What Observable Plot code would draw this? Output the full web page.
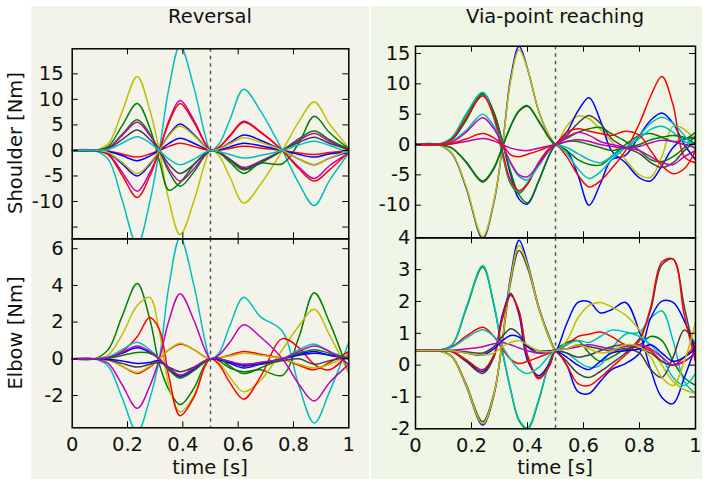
<!DOCTYPE html>
<html><head><meta charset="utf-8">
<script src="https://cdn.jsdelivr.net/npm/d3@7"></script>
<script src="https://cdn.jsdelivr.net/npm/@observablehq/plot@0.6"></script>
<style>
body{margin:0;background:#fff;}
#root{position:relative;width:708px;height:486px;overflow:hidden;font-family:"DejaVu Sans",sans-serif;}
.bg{position:absolute;}
.plot{position:absolute;}
.plot svg{overflow:visible;}
.txt{position:absolute;font-size:19.5px;color:#111;white-space:nowrap;transform:translate(-50%,-50%);line-height:1;}
.rot{transform:translate(-50%,-50%) rotate(-90deg);}
</style></head><body><div id="root"></div>
<script>
// ---- shared ----
const colorKeys = ["b","g","r","c","m","y","k"];
const colorHex = ["#0000ff","#008000","#ff0000","#00bfbf","#bf00bf","#bfbf00","#404040"];
const xTickValues = [0,0.2,0.4,0.6,0.8,1];
const xTickLabels = ["0","0.2","0.4","0.6","0.8","1"];
const xInnerTicks = [0.2,0.4,0.6,0.8];
const phaseBoundary = [0.5];
const panelTitles = ["Reversal","Via-point reaching"];
const rowLabels = ["Shoulder [Nm]","Elbow [Nm]"];
const xLabel = "time [s]";

// ---- Reversal ----
const timeRev = [0,0.08,0.13,0.18,0.235,0.28,0.315,0.35,0.39,0.44,0.48,0.5,0.53,0.57,0.62,0.68,0.76,0.82,0.875,0.93,1];
const revShoulderColors = ["y","c","g","g","m","m","r","r","b","b","k","y","c"];
const revShoulderValues = [
  [0,0,1.3,7.5,14.5,8,0,-9.9,-16.5,-9.9,-2.5,0,-1,-5.2,-10.3,-6.7,0,5.7,9.5,5.2,0.5],
  [0,0,-1.7,-9.6,-18.5,-10.2,0,12.3,20.5,12.3,3.1,0,1.2,6,12,7.8,0,-6.5,-10.8,-5.9,-0.5],
  [0,0,0.8,4.8,9.2,4.5,-2,-7.8,-6.3,-2.8,-0.6,0,-0.4,-2.3,-4.5,-2.5,-2.6,1.5,6.7,3.5,0.3],
  [0,0,0.5,3.1,6,3.3,0,-4.2,-7,-4.2,-1,0,-0.4,-1.9,-3.8,-2.5,0,2.3,3.8,2.1,0.2],
  [0,0,0.5,2.9,5.5,3,0,-3.6,-6,-3.6,-0.9,0,-0.3,-1.7,-3.3,-2.1,0,2,3.3,1.8,0],
  [0,0,-0.7,-4.2,-8,-4.4,0,5.9,9.8,5.9,1.5,0,0.6,2.9,5.7,3.7,0,-3.3,-5.5,-3,-0.5],
  [0,0,-0.8,-4.8,-9.2,-5.1,0,5.5,9.2,5.5,1.4,0,0.6,2.8,5.5,3.6,0,-3.6,-6,-3.8,-0.3],
  [0,0,-0.1,-0.7,-1.3,-0.7,0,0.8,1.4,0.8,0.2,0,0.1,0.4,0.8,0.5,0,-0.5,-0.8,-0.4,0],
  [0,0,-0.5,-2.6,-5,-2.8,0,3.1,5.2,3.1,0.8,0,0.3,1.5,3,2,0,-1.7,-2.8,-1.5,-0.3],
  [0,0,-0.2,-1,-2,-1.1,0,1.4,2.4,1.4,0.4,0,0.1,0.7,1.4,0.9,0,-0.8,-1.3,-0.7,-0.3],
  [0,0,0.4,2.1,4,2.2,0,-2.7,-4.5,-2.7,-0.7,0,-0.4,-1.8,-3.6,-2.3,0,1.6,2.6,1.4,0.2],
  [0,0,-0.4,-2.3,-4.5,-2.5,0,2.9,4.8,2.9,0.7,0,0.3,1.3,2.5,1.6,0,-1.7,-2.8,-1.5,0],
  [0,0,0.2,1.4,2.7,1.5,0,-1.7,-2.8,-1.7,-0.4,0,-0.2,-0.8,-1.5,-1,0,1.1,1.8,1,-0.5]
];
const revShoulderTickLabels = [-10,-5,0,5,10,15];
const revShoulderTickMarks = [-15,-10,-5,0,5,10,15];
const revShoulderDomain = [-17.3,19.9];

const revElbowColors = ["c","g","y","r","m","c","b","r","y","k","b","g","m"];
const revElbowValues = [
  [0,0,-0.4,-2.1,-4,-2.2,0,4,6.6,4,1,0,0.3,1.8,3.35,2.3,1.5,-1.5,-3.5,-1.8,0.9],
  [0,0,0.5,2.3,4.1,2.2,-0.3,-1.7,-2.5,-1.6,-0.3,0,-0.1,-0.5,-0.7,-0.6,-0.9,1.2,3.6,2,-0.8],
  [0,0,0.2,1.3,2.9,3.35,1.5,-1.5,-2.9,-2,-0.4,0,-0.2,-1,-1.8,-1.2,0.5,1.8,2.7,1.3,-0.8],
  [0,0,0.05,0.4,1.2,2.25,1.6,-1,-3.1,-2.1,-0.4,0,-0.3,-1.3,-2.2,-1,1.1,0.6,-0.3,-0.6,0.3],
  [0,0,-0.25,-1.4,-2.7,-1.5,0,2.1,3.55,2.1,0.5,0,0.2,0.9,1.85,1.2,0,-1.4,-2.3,-1.3,-0.3],
  [0,0,0.1,0.5,0.9,0.5,0,-0.6,-1,-0.6,-0.15,0,0,-0.15,-0.3,-0.2,0,0.5,0.8,0.4,0],
  [0,0,0.05,0.3,0.6,0.35,0,-0.6,-0.95,-0.6,-0.15,0,-0.05,-0.25,-0.5,-0.3,0,0.25,0.4,0.2,0.1],
  [0,0,-0.07,-0.4,-0.8,-0.45,0,0.5,0.8,0.5,0.1,0,0.05,0.2,0.4,0.25,0,-0.35,-0.6,-0.2,0.4],
  [0,0,-0.07,-0.4,-0.75,-0.4,0,0.5,0.85,0.5,0.1,0,0.05,0.15,0.3,0.2,0,-0.3,-0.5,-0.3,0.2],
  [0,0,-0.05,-0.25,-0.45,-0.3,-0.2,-0.45,-0.7,-0.45,-0.1,0,0,-0.2,-0.4,-0.3,-0.1,0,-0.3,-0.1,0.1],
  [0,0,-0.02,-0.12,-0.25,-0.2,-0.1,-0.5,-0.9,-0.55,-0.15,0,-0.05,-0.2,-0.35,-0.25,0,0.2,0.3,0.2,0],
  [0,0,0.03,0.18,0.35,0.3,0,-0.6,-1.05,-0.65,-0.15,0,0.05,-0.4,-0.8,-0.5,0,0.3,0.5,0.3,0],
  [0,0,0.06,0.35,0.7,0.4,0,-0.5,-0.9,-0.5,-0.1,0,0,-0.15,-0.3,-0.2,0,0.4,0.7,0.4,-0.3]
];
const revElbowTickLabels = [-2,0,2,4,6];
const revElbowDomain = [-3.76,6.54];

// ---- Via-point reaching ----
const timeVia = [0,0.08,0.13,0.18,0.24,0.28,0.31,0.34,0.37,0.4,0.44,0.48,0.5,0.54,0.58,0.62,0.66,0.7,0.75,0.8,0.84,0.88,0.92,0.96,1];
const viaShoulderColors = ["b","y","b","g","g","c","r","k","g","c","m","m","r"];
const viaShoulderValues = [
  [0,0,-1.5,-7,-15.5,-9.5,-0.5,11,16.2,12.5,5.5,1.2,0,-1,-5,-10,-6.5,-2.5,-1.8,1.5,4,5.2,3.5,0,-2.5],
  [0,0,-1.4,-6.8,-15.2,-9.3,-0.5,10.5,15.6,12.5,5.5,1.2,0,3,4.7,4.2,2.5,0.5,-2.5,-5,-5.4,-2,3,2.5,0.5],
  [0,0,0.8,4,8.5,5.2,0.5,-5,-9,-9.8,-6,-1.5,0,2,5.5,7.7,4,-1,-3,-5.5,-6,-3.5,-0.5,1,1],
  [0,0,0.8,4,8.3,5.3,0.5,-4.5,-8.3,-9.6,-6,-1.5,0,1,2,2.6,2.8,1.8,0.5,-1,-2.5,-2.8,-2,-0.5,1.5],
  [0,0,1.1,4.8,8.3,4.5,-1.5,-6.5,-8,-6.5,-3,-0.6,0,-1,-2.5,-3.3,-3.4,-2,0,1.5,1.8,1.2,0.5,0.8,2],
  [0,0,1.2,5,8.6,4.3,-1.5,-6.2,-7.8,-6.3,-3,-0.6,0,-0.5,-1.5,-2.5,-3,-2,-0.5,1,2.5,3,2,0.5,0],
  [0,0,0.9,4.3,8,4.6,-1,-6,-7.6,-6.5,-3,-0.6,0,-2,-5,-7,-6,-4,-1,3.5,8,11.2,6.5,-2,-3],
  [0,0,-0.6,-2.9,-6.2,-4,-0.5,3,5.5,6.3,3.8,0.9,0,1.5,3.5,4.8,3.5,1,-0.5,-1.5,-3,-3.8,-3,-1,0.5],
  [0,0,-0.6,-2.8,-6,-3.8,-0.4,3.1,5.6,6.4,3.9,0.9,0,0.5,0.5,0,-0.5,-1,-0.5,0,0.8,1.2,1.5,1.2,0],
  [0,0,0.5,2.3,5,3,0,-3.2,-5.3,-5.8,-3.5,-0.8,0,-1.5,-4,-5.6,-4.5,-2.5,-0.5,1.5,3.5,4.5,3.5,1.5,-1],
  [0,0,0.4,2,4.4,2.6,0,-3,-5,-5.3,-3.2,-0.8,0,1.2,2,1.5,0.5,0,-0.5,-1,-2,-3,-3.3,-2,-1],
  [0,0,0.1,0.5,1,0.6,0,-0.6,-0.9,-1,-0.6,-0.2,0,0.5,0.8,0.5,0,-0.3,-0.6,-0.3,0.3,0.7,0.5,0,-0.5],
  [0,0,0.2,0.9,1.8,1.1,0,-1.7,-2,-1.6,-1,-0.3,0,2,2.6,2.2,1.8,1.5,2.2,1.5,-1,-3.5,-4.8,-4,-1]
];
const viaShoulderTickLabels = [-10,-5,0,5,10,15];
const viaShoulderDomain = [-15.37,16.2];

const viaElbowColors = ["g","c","b","k","y","b","k","r","r","c","k","b","m","y"];
const viaElbowValues = [
  [0.46,0.46,0.62,1.74,3.08,1.88,0.46,-0.79,-1.75,-2,-1.12,0.15,0.46,0.71,0.77,0.38,0.12,0.25,0.51,0.64,0.9,0.77,0.12,-0.39,-0.64],
  [0.46,0.46,0.64,1.79,3.13,1.92,0.46,-0.77,-1.71,-1.97,-1.08,0.15,0.46,0.38,0.12,-0.07,0,0.51,0.97,1.04,1.48,1.7,0.77,-0.51,-0.89],
  [0.46,0.46,0.26,-0.64,-1.88,-0.95,0.77,2.81,3.92,3.22,1.83,0.84,0.46,1.3,1.97,1.99,1.64,1.74,1.97,1.04,-0.14,-1.02,-1.21,-0.39,0.58],
  [0.46,0.46,0.28,-0.58,-1.78,-0.89,0.71,2.62,3.6,3.06,1.79,0.8,0.46,0.12,-0.26,-0.39,-0.2,0.05,0.38,0.84,1.74,3.15,3.33,1.83,0.25],
  [0.46,0.46,0.26,-0.62,-1.84,-0.92,0.75,2.71,3.76,3.15,1.81,0.81,0.46,0.77,1.48,1.88,1.97,1.83,1.57,1.1,0.51,0,-0.51,-0.77,-0.89],
  [0.46,0.46,0.43,0.15,-0.2,0.3,1.57,2.25,1.57,0.15,-0.33,0.08,0.46,0,-0.83,-0.89,-0.51,-0.14,0.05,0.38,1.48,2.01,1.97,1.39,0.46],
  [0.46,0.46,0.42,0.12,-0.26,0.25,1.48,2.2,1.65,0.25,-0.39,0.05,0.46,0.51,0.64,0.58,0.51,0.45,0.51,0.38,-0.14,-0.39,0.25,1.1,0.64],
  [0.46,0.46,0.43,0.18,-0.14,0.32,1.43,2.19,1.7,0.32,-0.43,0,0.46,0,-0.58,-0.64,-0.39,-0.07,0.32,0.77,1.83,3.24,3.33,1.57,0.12],
  [0.46,0.46,0.58,0.9,1.19,0.9,0.51,0.18,0.05,0.12,0.25,0.38,0.46,0.64,0.9,0.97,1.04,0.9,0.64,0.58,0.45,0.12,0,0.25,0.64],
  [0.46,0.46,0.56,0.84,1.11,0.9,0.58,0.18,-0.14,-0.26,-0.07,0.32,0.46,0.64,0.77,0.71,0.9,1.1,1.04,0.9,0.64,0.25,-0.39,-0.64,-0.26],
  [0.46,0.46,0.46,0.42,0.38,0.58,0.9,1.14,0.97,0.58,0.38,0.42,0.46,0.38,0.25,0.32,0.45,0.58,0.64,0.51,0.38,0.12,0,0.12,0.38],
  [0.46,0.46,0.45,0.38,0.32,0.51,0.77,0.93,0.88,0.58,0.45,0.45,0.46,0.25,0,-0.14,0.12,0.38,0.45,0.51,0.64,0.38,0.12,0.25,0.51],
  [0.46,0.46,0.47,0.51,0.58,0.67,0.71,0.64,0.54,0.45,0.38,0.42,0.46,0.51,0.58,0.64,0.58,0.51,0.58,0.64,0.51,0.25,0,0.12,0.38],
  [0.46,0.46,0.45,0.38,0.32,0.38,0.58,0.71,0.77,0.64,0.45,0.42,0.46,0.51,0.64,0.51,0.38,0.45,0.64,0.58,0.25,-0.39,-0.64,0.12,1.34]
];
const viaElbowTickLabels = [-2,-1,0,1,2,3,4];
const viaElbowDomain = [-2,4];

// ---- layout helpers ----
const root = document.getElementById("root");
function addDiv(cls, css, text) {
  const d = document.createElement("div");
  d.className = cls;
  Object.assign(d.style, css);
  if (text != null) d.textContent = text;
  root.appendChild(d);
  return d;
}
addDiv("bg", {left:"31px", top:"6px", width:"338px", height:"473px", background:"#f4f3ea"});
addDiv("bg", {left:"371px", top:"6px", width:"331px", height:"473px", background:"#eff6e6"});

function drawPanel(o) {
  const rows = [];
  o.values.forEach((arr, i) => arr.forEach((v, j) => rows.push({t: o.times[j], v, s: i, c: o.colors[i]})));
  const innerW = o.width - o.ml - o.mr;
  const innerH = o.height - o.mt - o.mb;
  const TL = 6;
  const marks = [
    Plot.line(rows, {x: "t", y: "v", z: "s", stroke: "c", strokeWidth: 1.5, curve: "catmull-rom", clip: true}),
    Plot.ruleX(phaseBoundary, {stroke: "#555", strokeWidth: 1.5, strokeDasharray: "3.5,4"}),
    Plot.tickX(xInnerTicks, {x: d => d, insetBottom: innerH - TL, stroke: "#000"}),
    Plot.tickX(xInnerTicks, {x: d => d, insetTop: innerH - TL, stroke: "#000"}),
    Plot.tickY(o.tickMarks, {y: d => d, insetRight: innerW - TL, stroke: "#000"}),
    Plot.tickY(o.tickMarks, {y: d => d, insetLeft: innerW - TL, stroke: "#000"}),
    Plot.frame({stroke: "#000", strokeWidth: 1.5}),
    Plot.axisY(o.tickLabels, {tickSize: 0, tickPadding: o.pad, label: null, tickFormat: d => String(d)})
  ];
  if (o.showX) marks.push(Plot.axisX(xTickValues, {tickSize: 0, tickPadding: 9, label: null, tickFormat: d => xTickLabels[xTickValues.indexOf(d)]}));
  const xScale = {domain: [0, 1]};
  if (!o.showX) xScale.axis = null;
  const svg = Plot.plot({
    width: o.width, height: o.height,
    marginLeft: o.ml, marginRight: o.mr, marginTop: o.mt, marginBottom: o.mb,
    x: xScale, y: {domain: o.yDomain},
    color: {domain: colorKeys, range: colorHex},
    style: {fontFamily: "DejaVu Sans", fontSize: "19.5px", color: "#111", background: "transparent", overflow: "visible"},
    marks
  });
  const holder = addDiv("plot", {left: o.left + "px", top: o.top + "px"});
  holder.appendChild(svg);
}

drawPanel({left: 0, top: 0, width: 370, height: 250, ml: 71.7, mr: 21.7, mt: 48.3, mb: 11.7,
  times: timeRev, values: revShoulderValues, colors: revShoulderColors,
  yDomain: revShoulderDomain, tickLabels: revShoulderTickLabels, tickMarks: revShoulderTickMarks, pad: 8.5, showX: false});
drawPanel({left: 0, top: 230, width: 370, height: 256, ml: 71.7, mr: 21.7, mt: 8.3, mb: 58.7,
  times: timeRev, values: revElbowValues, colors: revElbowColors,
  yDomain: revElbowDomain, tickLabels: revElbowTickLabels, tickMarks: revElbowTickLabels, pad: 8.5, showX: true});
drawPanel({left: 360, top: 0, width: 348, height: 250, ml: 55, mr: 13, mt: 45.7, mb: 12.7,
  times: timeVia, values: viaShoulderValues, colors: viaShoulderColors,
  yDomain: viaShoulderDomain, tickLabels: viaShoulderTickLabels, tickMarks: viaShoulderTickLabels, pad: 5, showX: false});
drawPanel({left: 360, top: 230, width: 348, height: 256, ml: 55, mr: 13, mt: 7.3, mb: 57.7,
  times: timeVia, values: viaElbowValues, colors: viaElbowColors,
  yDomain: viaElbowDomain, tickLabels: viaElbowTickLabels, tickMarks: viaElbowTickLabels, pad: 5, showX: true});

addDiv("txt", {left: "210px", top: "17px"}, panelTitles[0]);
addDiv("txt", {left: "555px", top: "17px"}, panelTitles[1]);
addDiv("txt rot", {left: "16px", top: "143px"}, rowLabels[0]);
addDiv("txt rot", {left: "16px", top: "333px"}, rowLabels[1]);
addDiv("txt", {left: "210px", top: "468px"}, xLabel);
addDiv("txt", {left: "555px", top: "468px"}, xLabel);
</script>
</body></html>
